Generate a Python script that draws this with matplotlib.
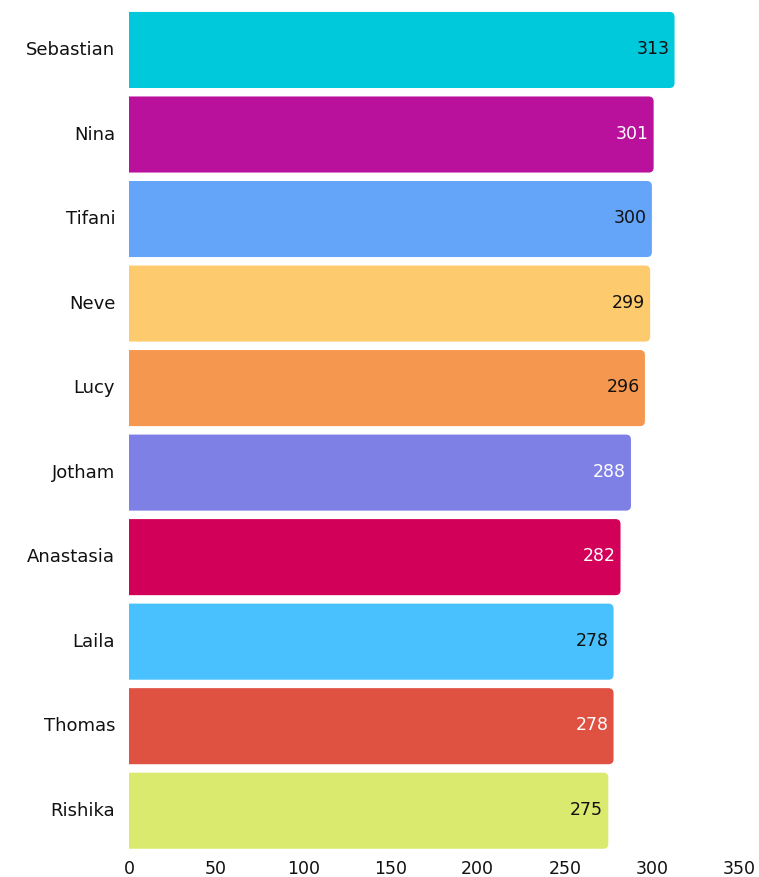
import matplotlib
matplotlib.use("Agg")
import matplotlib.pyplot as plt
from matplotlib.patches import FancyBboxPatch

names = ["Sebastian", "Nina", "Tifani", "Neve", "Lucy", "Jotham",
         "Anastasia", "Laila", "Thomas", "Rishika"]
values = [313, 301, 300, 299, 296, 288, 282, 278, 278, 275]
colors = ["#00C9DB", "#BA119D", "#64A5FA", "#FDCB6E", "#F6974F",
          "#7F80E6", "#D3005A", "#48C1FE", "#DF5242", "#D9EA6E"]
label_colors = ["#111111", "white", "#111111", "#111111", "#111111",
                "white", "white", "#111111", "white", "#111111"]
xticks = [0, 50, 100, 150, 200, 250, 300, 350]

plt.rcParams["font.family"] = ["DejaVu Sans"]

fig = plt.figure(figsize=(7.59, 8.77), dpi=100)
ax = fig.add_axes([0.170, 0.0274, 0.8037, 0.9638])

ypos = list(range(len(names)))
bars = ax.barh(ypos, values, height=0.9, color=colors)

ax.set_xlim(0, 350)
ax.set_ylim(len(names) - 0.5, -0.5)

# rounded right ends: replace plain bars with fancy boxes (left side clipped)
px_x = 0.8037 * 759 / 350
px_y = 0.9638 * 877 / len(names)
r_px = 5
for b in bars:
    b.set_visible(False)
    x0, y0 = b.get_x(), b.get_y()
    w, h = b.get_width(), b.get_height()
    patch = FancyBboxPatch((x0 - 10, y0), w + 10, h,
                           boxstyle="round,pad=0,rounding_size=%f" % (r_px / px_x),
                           mutation_aspect=px_x / px_y,
                           facecolor=b.get_facecolor(), edgecolor="none",
                           clip_on=True)
    ax.add_patch(patch)

for y, v, c in zip(ypos, values, label_colors):
    ax.text(v - 3, y - 0.01, str(v), ha="right", va="center", color=c, fontsize=12.5)

ax.set_yticks(ypos)
ax.set_yticklabels(names, fontsize=13, color="#111111", va="center")
ax.set_xticks(xticks)
ax.set_xticklabels([str(t) for t in xticks], fontsize=12.5, color="#111111")
ax.tick_params(axis="y", length=0, pad=10)
ax.tick_params(axis="x", length=0, pad=5)
for s in ax.spines.values():
    s.set_visible(False)

fig.savefig("out.png", dpi=100)
